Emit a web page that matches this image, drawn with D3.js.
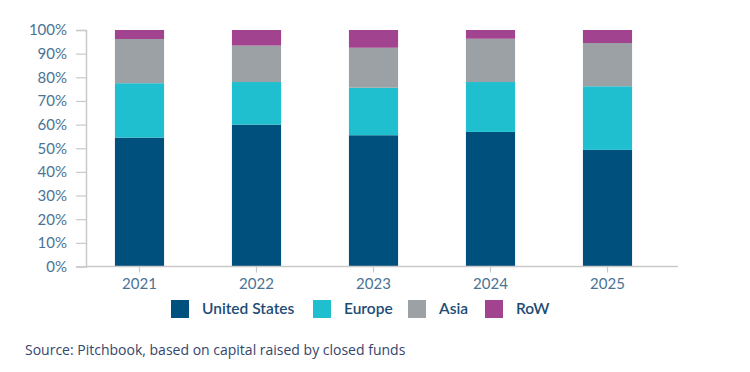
<!DOCTYPE html>
<html>
<head>
<meta charset="utf-8">
<script src="https://cdn.jsdelivr.net/npm/d3@7"></script>
<style>
  body { margin: 0; background: #fff; }
  text { font-family: Lato, "Open Sans", sans-serif; }
</style>
</head>
<body>
<svg id="chart" width="750" height="372"></svg>
<script>
var years = ["2021", "2022", "2023", "2024", "2025"];
var regions = ["United States", "Europe", "Asia", "RoW"];
var unitedStates = [54.5, 60.0, 55.5, 56.9, 49.3];
var europe = [23.0, 18.0, 20.1, 21.1, 26.9];
var asia = [18.7, 15.4, 16.9, 18.3, 18.3];
var row = [3.8, 6.6, 7.5, 3.7, 5.5];
var yTicks = [0, 10, 20, 30, 40, 50, 60, 70, 80, 90, 100];
var colors = ["#00507d", "#1fbfd0", "#9ca1a5", "#a2438f"];

var svg = d3.select("#chart");

var table = years.map(function (y, i) {
    return { year: y, "United States": unitedStates[i], "Europe": europe[i], "Asia": asia[i], "RoW": row[i] };
});

var x = d3.scaleBand().domain(years).range([81, 666]).paddingInner(0.58).paddingOuter(0.29);
var y = d3.scaleLinear().domain([0, 100]).range([266.5, 30]);
var color = d3.scaleOrdinal().domain(regions).range(colors);

var stack = d3.stack().keys(regions)(table);

// bars
svg.append("g")
    .selectAll("g")
    .data(stack)
    .enter()
    .append("g")
    .attr("fill", function (d) { return color(d.key); })
    .selectAll("rect")
    .data(function (d) { return d; })
    .enter()
    .append("rect")
    .attr("x", function (d) { return x(d.data.year); })
    .attr("width", x.bandwidth())
    .attr("y", function (d) { return y(d[1]); })
    .attr("height", function (d) { return y(d[0]) - y(d[1]); });

// y axis
var yAxis = svg.append("g")
    .attr("transform", "translate(86,0)")
    .call(d3.axisLeft(y).tickValues(yTicks).tickFormat(function (d) { return d + "%"; }).tickSize(10).tickPadding(9));
yAxis.select(".domain").attr("stroke", "#c9c9c9").attr("stroke-width", 1.5);
yAxis.selectAll(".tick line").attr("stroke", "#c9c9c9").attr("stroke-width", 1.2);
yAxis.selectAll(".tick text")
    .attr("fill", "#4a7394")
    .style("font-size", "15px");

// x axis
var xAxis = svg.append("g")
    .attr("transform", "translate(0,266.5)")
    .call(d3.axisBottom(x).tickSize(6).tickPadding(6).tickSizeOuter(0));
xAxis.select(".domain").attr("d", "M86,0H678").attr("stroke", "#c9c9c9").attr("stroke-width", 1.5);
xAxis.selectAll(".tick line").attr("stroke", "#c9c9c9").attr("stroke-width", 1.2);
xAxis.selectAll(".tick text")
    .attr("fill", "#4a7394")
    .style("font-size", "15px");

// legend
var legendX = [171, 313, 408, 485];
var legend = svg.append("g")
    .selectAll("g")
    .data(regions)
    .enter()
    .append("g")
    .attr("transform", function (d, i) { return "translate(" + legendX[i] + ",300)"; });
legend.append("rect")
    .attr("width", 18)
    .attr("height", 18)
    .attr("fill", function (d) { return color(d); });
legend.append("text")
    .attr("x", 31)
    .attr("y", 14)
    .attr("fill", "#1d4c75")
    .style("font-size", "15.5px")
    .style("font-weight", "600")
    .text(function (d) { return d; });

// source
svg.append("text")
    .attr("x", 25)
    .attr("y", 355)
    .attr("fill", "#34466b")
    .style("font-family", "'Open Sans', sans-serif")
    .style("font-size", "14px")
    .text("Source: Pitchbook, based on capital raised by closed funds");
</script>
</body>
</html>
